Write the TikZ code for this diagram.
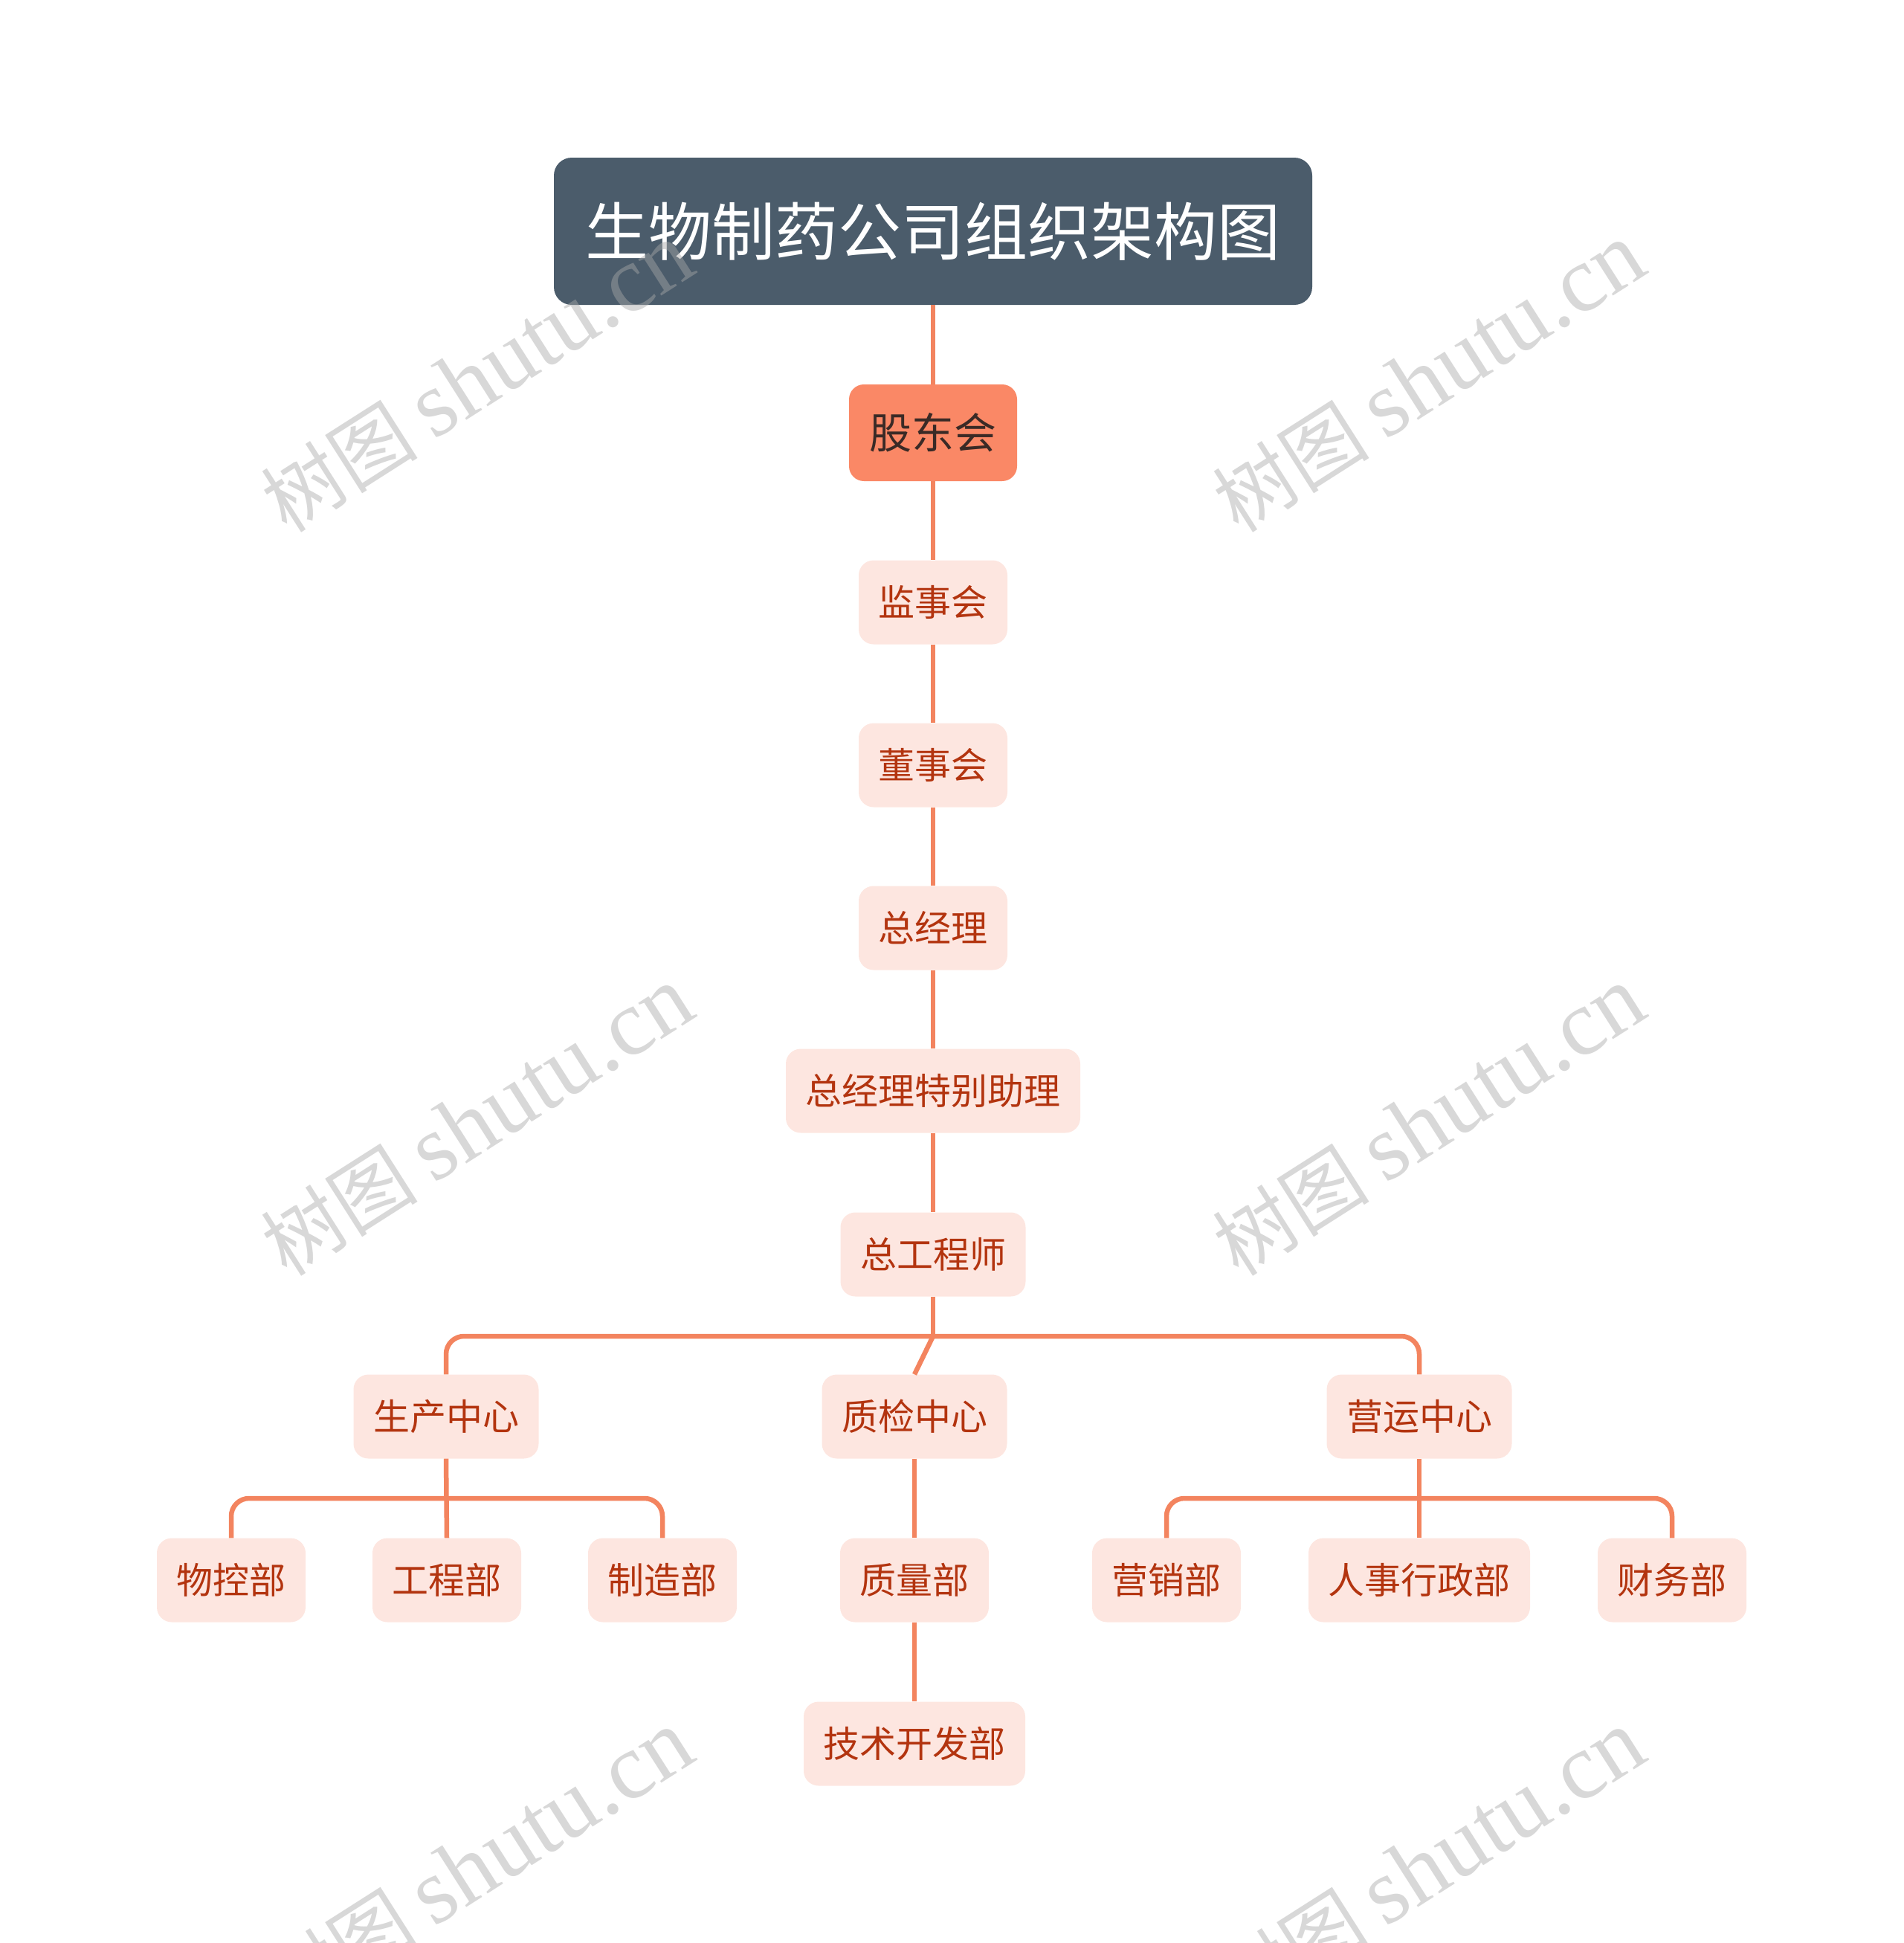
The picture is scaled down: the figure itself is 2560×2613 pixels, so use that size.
\documentclass[tikz,border=0pt]{standalone}
\usepackage{fontspec}
\newfontfamily\cjk{Noto Sans CJK SC}
\newfontfamily\wmlat{Liberation Serif}
\definecolor{titlefill}{HTML}{4B5C6B}
\definecolor{rootfill}{HTML}{FA8866}
\definecolor{roottext}{HTML}{3A2A26}
\definecolor{subfill}{HTML}{FDE6E0}
\definecolor{subtext}{HTML}{B3340F}
\definecolor{linec}{HTML}{F3845F}
\definecolor{wmgray}{HTML}{A8A8A8}
\begin{document}
\begin{tikzpicture}[x=1pt,y=1pt,
  titlebox/.style={rectangle, rounded corners=24pt, fill=titlefill, text=white,
    minimum width=1020pt, minimum height=198pt, inner sep=0pt,
    font=\cjk\fontsize{85}{100}\selectfont, text height=72pt, text depth=7pt},
  rootbox/.style={rectangle, rounded corners=20pt, fill=rootfill, text=roottext,
    minimum width=226pt, minimum height=130pt, inner sep=0pt,
    font=\cjk\fontsize{57}{68}\selectfont, text height=48pt, text depth=5pt},
  subbox/.style={rectangle, rounded corners=20pt, fill=subfill, text=subtext,
    minimum height=113pt, inner xsep=26.5pt, inner ysep=0pt,
    font=\cjk\fontsize{49}{58}\selectfont, text height=41.5pt, text depth=4.5pt},
  conn/.style={draw=linec, line width=6.5pt},
  wm/.style={text=wmgray, opacity=0.45, rotate=32.5, inner sep=0pt}
]
\clip (0,0) rectangle (2560,-2613);
\useasboundingbox (0,0) rectangle (2560,-2613);

% nodes
\node[titlebox] (title) at (1255,-311) {生物制药公司组织架构图};
\node[rootbox] (gdh) at (1255,-582) {股东会};
\node[subbox] (jsh) at (1255,-810) {监事会};
\node[subbox] (dsh) at (1255,-1029) {董事会};
\node[subbox] (zjl) at (1255,-1248) {总经理};
\node[subbox] (zlzl) at (1255,-1467) {总经理特别助理};
\node[subbox] (zgcs) at (1255,-1687) {总工程师};

\node[subbox] (sczx) at (600,-1905) {生产中心};
\node[subbox] (zjzx) at (1230,-1905) {质检中心};
\node[subbox] (yyzx) at (1909,-1905) {营运中心};

\node[subbox] (wkb) at (311,-2125) {物控部};
\node[subbox] (gcb) at (601,-2125) {工程部};
\node[subbox] (zzb) at (891,-2125) {制造部};
\node[subbox] (zlb) at (1230,-2125) {质量部};
\node[subbox] (yxb) at (1569,-2125) {营销部};
\node[subbox] (rsb) at (1909,-2125) {人事行政部};
\node[subbox] (cwb) at (2249,-2125) {财务部};
\node[subbox] (jskf) at (1230,-2345) {技术开发部};

\coordinate (b1) at (1255,-1797);
\coordinate (b2) at (601,-2015);
\coordinate (b3) at (1909,-2015);

% connectors
\draw[conn] (title.south) -- (gdh.north);
\draw[conn] (gdh.south) -- (jsh.north);
\draw[conn] (jsh.south) -- (dsh.north);
\draw[conn] (dsh.south) -- (zjl.north);
\draw[conn] (zjl.south) -- (zlzl.north);
\draw[conn] (zlzl.south) -- (zgcs.north);
\draw[conn] (zgcs.south) -- (b1);
\draw[conn, rounded corners=24pt] (sczx.north) |- (b1) -| (yyzx.north);
\draw[conn] (b1) -- (zjzx.north);

\draw[conn] (sczx.south) -- (gcb.north);
\draw[conn, rounded corners=24pt] (wkb.north) |- (b2) -| (zzb.north);
\draw[conn] (zjzx.south) -- (zlb.north);
\draw[conn] (zlb.south) -- (jskf.north);
\draw[conn] (yyzx.south) -- (rsb.north);
\draw[conn, rounded corners=24pt] (yxb.north) |- (b3) -| (cwb.north);

% watermarks
\foreach \i/\cx/\cy in {1/642/-508, 2/1922/-508, 3/642/-1508, 4/1922/-1508, 5/642/-2508, 6/1922/-2508}{
  \node[wm] (wm\i) at (\cx,\cy) {{\cjk\fontsize{106}{120}\selectfont 树图}\hspace{22pt}{\wmlat\fontsize{126}{140}\selectfont shutu.cn}};
}
\end{tikzpicture}
\end{document}
